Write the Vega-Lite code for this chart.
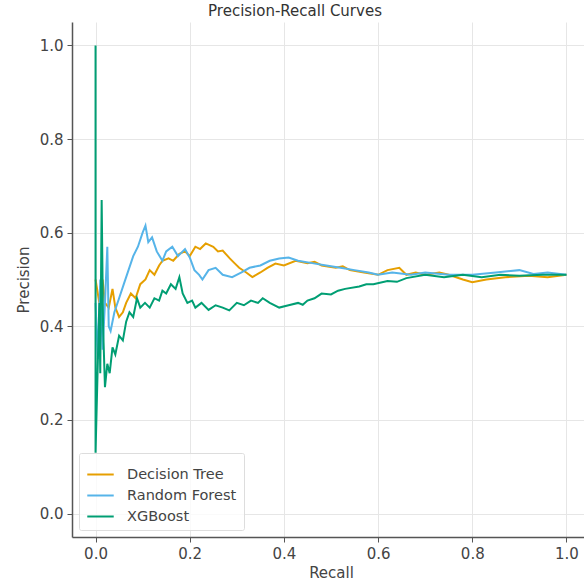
{
  "$schema": "https://vega.github.io/schema/vega-lite/v6.json",
  "autosize": "none",
  "width": 518,
  "height": 515,
  "padding": {"left": 72, "top": 22, "right": 0, "bottom": 43},
  "background": "white",
  "title": {"text": "Precision-Recall Curves", "fontSize": 15, "font": "DejaVu Sans", "fontWeight": "normal", "color": "#333", "anchor": "middle", "dx": -36, "offset": 3},
  "config": {"view": {"stroke": null}, "font": "DejaVu Sans"},
  "data": {"values": [
    {"model":"Decision Tree","i":0,"recall":0.0,"precision":0.5},
    {"model":"Decision Tree","i":1,"recall":0.008,"precision":0.45},
    {"model":"Decision Tree","i":2,"recall":0.015,"precision":0.5},
    {"model":"Decision Tree","i":3,"recall":0.02,"precision":0.45},
    {"model":"Decision Tree","i":4,"recall":0.028,"precision":0.44},
    {"model":"Decision Tree","i":5,"recall":0.036,"precision":0.48},
    {"model":"Decision Tree","i":6,"recall":0.042,"precision":0.44},
    {"model":"Decision Tree","i":7,"recall":0.05,"precision":0.42},
    {"model":"Decision Tree","i":8,"recall":0.058,"precision":0.43},
    {"model":"Decision Tree","i":9,"recall":0.065,"precision":0.45},
    {"model":"Decision Tree","i":10,"recall":0.075,"precision":0.47},
    {"model":"Decision Tree","i":11,"recall":0.085,"precision":0.46},
    {"model":"Decision Tree","i":12,"recall":0.095,"precision":0.49},
    {"model":"Decision Tree","i":13,"recall":0.106,"precision":0.5},
    {"model":"Decision Tree","i":14,"recall":0.115,"precision":0.52},
    {"model":"Decision Tree","i":15,"recall":0.125,"precision":0.51},
    {"model":"Decision Tree","i":16,"recall":0.135,"precision":0.53},
    {"model":"Decision Tree","i":17,"recall":0.142,"precision":0.54},
    {"model":"Decision Tree","i":18,"recall":0.155,"precision":0.545},
    {"model":"Decision Tree","i":19,"recall":0.165,"precision":0.54},
    {"model":"Decision Tree","i":20,"recall":0.178,"precision":0.555},
    {"model":"Decision Tree","i":21,"recall":0.19,"precision":0.56},
    {"model":"Decision Tree","i":22,"recall":0.2,"precision":0.55},
    {"model":"Decision Tree","i":23,"recall":0.212,"precision":0.57},
    {"model":"Decision Tree","i":24,"recall":0.222,"precision":0.565},
    {"model":"Decision Tree","i":25,"recall":0.234,"precision":0.577},
    {"model":"Decision Tree","i":26,"recall":0.25,"precision":0.57},
    {"model":"Decision Tree","i":27,"recall":0.26,"precision":0.56},
    {"model":"Decision Tree","i":28,"recall":0.27,"precision":0.562},
    {"model":"Decision Tree","i":29,"recall":0.285,"precision":0.545},
    {"model":"Decision Tree","i":30,"recall":0.295,"precision":0.535},
    {"model":"Decision Tree","i":31,"recall":0.305,"precision":0.525},
    {"model":"Decision Tree","i":32,"recall":0.32,"precision":0.515},
    {"model":"Decision Tree","i":33,"recall":0.333,"precision":0.505},
    {"model":"Decision Tree","i":34,"recall":0.35,"precision":0.515},
    {"model":"Decision Tree","i":35,"recall":0.365,"precision":0.525},
    {"model":"Decision Tree","i":36,"recall":0.382,"precision":0.534},
    {"model":"Decision Tree","i":37,"recall":0.4,"precision":0.53},
    {"model":"Decision Tree","i":38,"recall":0.425,"precision":0.54},
    {"model":"Decision Tree","i":39,"recall":0.45,"precision":0.535},
    {"model":"Decision Tree","i":40,"recall":0.465,"precision":0.538},
    {"model":"Decision Tree","i":41,"recall":0.48,"precision":0.53},
    {"model":"Decision Tree","i":42,"recall":0.51,"precision":0.525},
    {"model":"Decision Tree","i":43,"recall":0.525,"precision":0.528},
    {"model":"Decision Tree","i":44,"recall":0.54,"precision":0.52},
    {"model":"Decision Tree","i":45,"recall":0.57,"precision":0.515},
    {"model":"Decision Tree","i":46,"recall":0.6,"precision":0.51},
    {"model":"Decision Tree","i":47,"recall":0.62,"precision":0.52},
    {"model":"Decision Tree","i":48,"recall":0.645,"precision":0.525},
    {"model":"Decision Tree","i":49,"recall":0.66,"precision":0.51},
    {"model":"Decision Tree","i":50,"recall":0.68,"precision":0.515},
    {"model":"Decision Tree","i":51,"recall":0.7,"precision":0.51},
    {"model":"Decision Tree","i":52,"recall":0.73,"precision":0.515},
    {"model":"Decision Tree","i":53,"recall":0.75,"precision":0.51},
    {"model":"Decision Tree","i":54,"recall":0.78,"precision":0.5},
    {"model":"Decision Tree","i":55,"recall":0.8,"precision":0.494},
    {"model":"Decision Tree","i":56,"recall":0.83,"precision":0.5},
    {"model":"Decision Tree","i":57,"recall":0.87,"precision":0.505},
    {"model":"Decision Tree","i":58,"recall":0.92,"precision":0.508},
    {"model":"Decision Tree","i":59,"recall":0.96,"precision":0.505},
    {"model":"Decision Tree","i":60,"recall":1.0,"precision":0.51},

    {"model":"Random Forest","i":0,"recall":0.0,"precision":0.45},
    {"model":"Random Forest","i":1,"recall":0.005,"precision":0.33},
    {"model":"Random Forest","i":2,"recall":0.01,"precision":0.5},
    {"model":"Random Forest","i":3,"recall":0.015,"precision":0.35},
    {"model":"Random Forest","i":4,"recall":0.02,"precision":0.45},
    {"model":"Random Forest","i":5,"recall":0.025,"precision":0.57},
    {"model":"Random Forest","i":6,"recall":0.028,"precision":0.4},
    {"model":"Random Forest","i":7,"recall":0.032,"precision":0.39},
    {"model":"Random Forest","i":8,"recall":0.04,"precision":0.43},
    {"model":"Random Forest","i":9,"recall":0.05,"precision":0.46},
    {"model":"Random Forest","i":10,"recall":0.06,"precision":0.49},
    {"model":"Random Forest","i":11,"recall":0.07,"precision":0.52},
    {"model":"Random Forest","i":12,"recall":0.08,"precision":0.55},
    {"model":"Random Forest","i":13,"recall":0.09,"precision":0.57},
    {"model":"Random Forest","i":14,"recall":0.1,"precision":0.6},
    {"model":"Random Forest","i":15,"recall":0.106,"precision":0.615},
    {"model":"Random Forest","i":16,"recall":0.112,"precision":0.58},
    {"model":"Random Forest","i":17,"recall":0.12,"precision":0.59},
    {"model":"Random Forest","i":18,"recall":0.13,"precision":0.56},
    {"model":"Random Forest","i":19,"recall":0.142,"precision":0.54},
    {"model":"Random Forest","i":20,"recall":0.15,"precision":0.56},
    {"model":"Random Forest","i":21,"recall":0.163,"precision":0.57},
    {"model":"Random Forest","i":22,"recall":0.175,"precision":0.55},
    {"model":"Random Forest","i":23,"recall":0.19,"precision":0.565},
    {"model":"Random Forest","i":24,"recall":0.2,"precision":0.547},
    {"model":"Random Forest","i":25,"recall":0.21,"precision":0.52},
    {"model":"Random Forest","i":26,"recall":0.22,"precision":0.51},
    {"model":"Random Forest","i":27,"recall":0.227,"precision":0.5},
    {"model":"Random Forest","i":28,"recall":0.24,"precision":0.52},
    {"model":"Random Forest","i":29,"recall":0.255,"precision":0.525},
    {"model":"Random Forest","i":30,"recall":0.27,"precision":0.51},
    {"model":"Random Forest","i":31,"recall":0.29,"precision":0.505},
    {"model":"Random Forest","i":32,"recall":0.31,"precision":0.515},
    {"model":"Random Forest","i":33,"recall":0.327,"precision":0.525},
    {"model":"Random Forest","i":34,"recall":0.35,"precision":0.53},
    {"model":"Random Forest","i":35,"recall":0.37,"precision":0.54},
    {"model":"Random Forest","i":36,"recall":0.39,"precision":0.545},
    {"model":"Random Forest","i":37,"recall":0.41,"precision":0.547},
    {"model":"Random Forest","i":38,"recall":0.43,"precision":0.54},
    {"model":"Random Forest","i":39,"recall":0.46,"precision":0.535},
    {"model":"Random Forest","i":40,"recall":0.49,"precision":0.53},
    {"model":"Random Forest","i":41,"recall":0.52,"precision":0.525},
    {"model":"Random Forest","i":42,"recall":0.55,"precision":0.52},
    {"model":"Random Forest","i":43,"recall":0.58,"precision":0.515},
    {"model":"Random Forest","i":44,"recall":0.6,"precision":0.51},
    {"model":"Random Forest","i":45,"recall":0.63,"precision":0.515},
    {"model":"Random Forest","i":46,"recall":0.67,"precision":0.51},
    {"model":"Random Forest","i":47,"recall":0.7,"precision":0.515},
    {"model":"Random Forest","i":48,"recall":0.75,"precision":0.51},
    {"model":"Random Forest","i":49,"recall":0.8,"precision":0.51},
    {"model":"Random Forest","i":50,"recall":0.85,"precision":0.515},
    {"model":"Random Forest","i":51,"recall":0.9,"precision":0.52},
    {"model":"Random Forest","i":52,"recall":0.93,"precision":0.512},
    {"model":"Random Forest","i":53,"recall":0.96,"precision":0.515},
    {"model":"Random Forest","i":54,"recall":1.0,"precision":0.51},

    {"model":"XGBoost","i":0,"recall":0.0,"precision":1.0},
    {"model":"XGBoost","i":1,"recall":0.0,"precision":0.13},
    {"model":"XGBoost","i":2,"recall":0.005,"precision":0.33},
    {"model":"XGBoost","i":3,"recall":0.008,"precision":0.45},
    {"model":"XGBoost","i":4,"recall":0.01,"precision":0.3},
    {"model":"XGBoost","i":5,"recall":0.013,"precision":0.67},
    {"model":"XGBoost","i":6,"recall":0.016,"precision":0.4},
    {"model":"XGBoost","i":7,"recall":0.02,"precision":0.27},
    {"model":"XGBoost","i":8,"recall":0.025,"precision":0.32},
    {"model":"XGBoost","i":9,"recall":0.03,"precision":0.3},
    {"model":"XGBoost","i":10,"recall":0.036,"precision":0.355},
    {"model":"XGBoost","i":11,"recall":0.042,"precision":0.34},
    {"model":"XGBoost","i":12,"recall":0.05,"precision":0.38},
    {"model":"XGBoost","i":13,"recall":0.058,"precision":0.37},
    {"model":"XGBoost","i":14,"recall":0.065,"precision":0.41},
    {"model":"XGBoost","i":15,"recall":0.072,"precision":0.43},
    {"model":"XGBoost","i":16,"recall":0.08,"precision":0.42},
    {"model":"XGBoost","i":17,"recall":0.088,"precision":0.46},
    {"model":"XGBoost","i":18,"recall":0.095,"precision":0.44},
    {"model":"XGBoost","i":19,"recall":0.105,"precision":0.45},
    {"model":"XGBoost","i":20,"recall":0.115,"precision":0.44},
    {"model":"XGBoost","i":21,"recall":0.125,"precision":0.46},
    {"model":"XGBoost","i":22,"recall":0.135,"precision":0.455},
    {"model":"XGBoost","i":23,"recall":0.142,"precision":0.476},
    {"model":"XGBoost","i":24,"recall":0.15,"precision":0.47},
    {"model":"XGBoost","i":25,"recall":0.16,"precision":0.49},
    {"model":"XGBoost","i":26,"recall":0.17,"precision":0.48},
    {"model":"XGBoost","i":27,"recall":0.178,"precision":0.505},
    {"model":"XGBoost","i":28,"recall":0.185,"precision":0.47},
    {"model":"XGBoost","i":29,"recall":0.195,"precision":0.45},
    {"model":"XGBoost","i":30,"recall":0.205,"precision":0.455},
    {"model":"XGBoost","i":31,"recall":0.212,"precision":0.44},
    {"model":"XGBoost","i":32,"recall":0.225,"precision":0.45},
    {"model":"XGBoost","i":33,"recall":0.24,"precision":0.435},
    {"model":"XGBoost","i":34,"recall":0.255,"precision":0.445},
    {"model":"XGBoost","i":35,"recall":0.27,"precision":0.44},
    {"model":"XGBoost","i":36,"recall":0.284,"precision":0.434},
    {"model":"XGBoost","i":37,"recall":0.3,"precision":0.45},
    {"model":"XGBoost","i":38,"recall":0.315,"precision":0.445},
    {"model":"XGBoost","i":39,"recall":0.33,"precision":0.455},
    {"model":"XGBoost","i":40,"recall":0.345,"precision":0.45},
    {"model":"XGBoost","i":41,"recall":0.355,"precision":0.46},
    {"model":"XGBoost","i":42,"recall":0.37,"precision":0.45},
    {"model":"XGBoost","i":43,"recall":0.39,"precision":0.44},
    {"model":"XGBoost","i":44,"recall":0.41,"precision":0.445},
    {"model":"XGBoost","i":45,"recall":0.43,"precision":0.45},
    {"model":"XGBoost","i":46,"recall":0.44,"precision":0.446},
    {"model":"XGBoost","i":47,"recall":0.45,"precision":0.455},
    {"model":"XGBoost","i":48,"recall":0.465,"precision":0.46},
    {"model":"XGBoost","i":49,"recall":0.48,"precision":0.47},
    {"model":"XGBoost","i":50,"recall":0.5,"precision":0.468},
    {"model":"XGBoost","i":51,"recall":0.515,"precision":0.476},
    {"model":"XGBoost","i":52,"recall":0.53,"precision":0.48},
    {"model":"XGBoost","i":53,"recall":0.56,"precision":0.485},
    {"model":"XGBoost","i":54,"recall":0.575,"precision":0.49},
    {"model":"XGBoost","i":55,"recall":0.59,"precision":0.49},
    {"model":"XGBoost","i":56,"recall":0.62,"precision":0.497},
    {"model":"XGBoost","i":57,"recall":0.64,"precision":0.495},
    {"model":"XGBoost","i":58,"recall":0.66,"precision":0.503},
    {"model":"XGBoost","i":59,"recall":0.7,"precision":0.51},
    {"model":"XGBoost","i":60,"recall":0.74,"precision":0.505},
    {"model":"XGBoost","i":61,"recall":0.78,"precision":0.51},
    {"model":"XGBoost","i":62,"recall":0.82,"precision":0.505},
    {"model":"XGBoost","i":63,"recall":0.86,"precision":0.51},
    {"model":"XGBoost","i":64,"recall":0.9,"precision":0.508},
    {"model":"XGBoost","i":65,"recall":0.95,"precision":0.51},
    {"model":"XGBoost","i":66,"recall":1.0,"precision":0.51}
  ]},
  "mark": {"type": "line", "strokeWidth": 2, "clip": true},
  "encoding": {
    "x": {"field": "recall", "type": "quantitative", "title": "Recall",
      "scale": {"domain": [-0.05, 1.05], "nice": false, "zero": false},
      "axis": {"values": [0, 0.2, 0.4, 0.6, 0.8, 1.0], "format": ".1f", "labelFontSize": 15, "titleFontSize": 15, "titleFontWeight": "normal", "labelColor": "#444", "titleColor": "#444", "domainColor": "#555", "domainWidth": 1.5, "tickColor": "#555", "tickSize": 5, "labelPadding": 4, "titlePadding": 4, "gridColor": "#e6e6e6", "labelFlush": false}},
    "y": {"field": "precision", "type": "quantitative", "title": "Precision",
      "scale": {"domain": [-0.05, 1.05], "nice": false, "zero": false},
      "axis": {"values": [0, 0.2, 0.4, 0.6, 0.8, 1.0], "format": ".1f", "labelFontSize": 15, "titleFontSize": 15, "titleFontWeight": "normal", "labelColor": "#444", "titleColor": "#444", "domainColor": "#555", "domainWidth": 1.5, "tickColor": "#555", "tickSize": 5, "labelPadding": 4, "titlePadding": 8, "gridColor": "#e6e6e6", "labelFlush": false}},
    "order": {"field": "i", "type": "quantitative"},
    "color": {"field": "model", "type": "nominal",
      "scale": {"domain": ["Decision Tree", "Random Forest", "XGBoost"], "range": ["#E69F00", "#56B4E9", "#009E73"]},
      "legend": {"title": null, "orient": "bottom-left", "offset": 7, "padding": 7, "strokeColor": "#dddddd", "fillColor": "rgba(255,255,255,0.8)", "cornerRadius": 2, "symbolType": "stroke", "symbolSize": 700, "symbolStrokeWidth": 2, "labelFontSize": 14.5, "labelColor": "#444", "labelOffset": 12, "rowPadding": -3}}
  }
}
